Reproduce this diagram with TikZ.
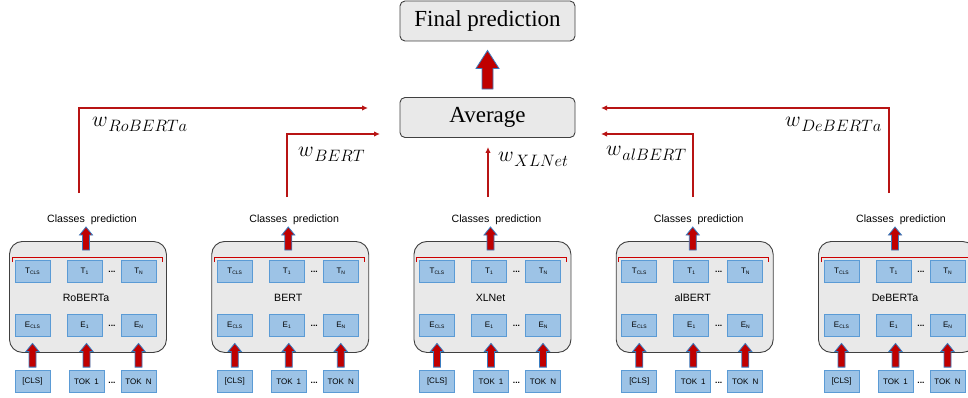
\RequirePackage{fix-cm}
\documentclass[tikz,border=0pt]{standalone}
\usepackage{fontspec}
\newfontfamily\arialf{Liberation Sans}
\newfontfamily\tnrf{Liberation Serif}
\usetikzlibrary{calc,arrows.meta}
\definecolor{boxblue}{HTML}{9DC3E6}
\definecolor{edgeblue}{HTML}{5B9BD5}
\definecolor{darkred}{HTML}{C00000}
\definecolor{linered}{HTML}{B81414}
\definecolor{panelgray}{HTML}{E9E9E9}
\definecolor{arrowedge}{HTML}{3A7CC0}
\newcommand\fatarrow[5]{%
  \path[fatstyle] let \p1=(#1), \p2=(#2) in
  (\x1-#3,\y1) -- (\x1-#3,\y2-#5) -- (\x1-#4,\y2-#5) -- (\x1,\y2) --
  (\x1+#4,\y2-#5) -- (\x1+#3,\y2-#5) -- (\x1+#3,\y1) -- cycle;}
\newcommand\sbs[1]{\raisebox{-1.4pt}{\fontsize{5}{5}\selectfont #1}}
\newcommand\wsub[1]{$w$\hspace{0.5pt}\raisebox{-5pt}{\fontsize{16.5}{17}\selectfont$#1$}}
\tikzset{
  tok/.style={draw=edgeblue, fill=boxblue, line width=0.8pt, minimum width=35pt,
    minimum height=22pt, inner sep=0pt, font=\arialf\fontsize{8}{9}\selectfont},
  panel/.style={draw=black!75, fill=panelgray, rounded corners=13pt, line width=0.9pt,
    minimum width=157pt, minimum height=111pt, anchor=north west, inner sep=0pt},
  topbox/.style={draw=black!75, fill=panelgray, rounded corners=5pt, line width=0.9pt,
    minimum width=175pt, minimum height=40pt, inner sep=0pt,
    font=\tnrf\fontsize{23}{27}\selectfont},
  fatstyle/.style={fill=darkred, draw=arrowedge, line width=0.8pt, line join=miter},
  wline/.style={draw=linered, line width=1.4pt, -{Latex[length=6pt,width=5.5pt]}},
  wlabel/.style={anchor=base west, inner sep=0pt, font=\fontsize{21.5}{25}\selectfont},
  bracketline/.style={draw=red!80!black, line width=0.9pt},
  small/.style={font=\arialf\fontsize{10.6}{12}\selectfont, inner sep=0pt},
  dots/.style={font=\arialf\bfseries\fontsize{8.5}{9}\selectfont, inner sep=0pt}
}
\begin{document}
\begin{tikzpicture}[x=1pt,y=-1pt]
\useasboundingbox (0,0) rectangle (968,398);
\clip (0,0) rectangle (968,398);
% top boxes
\node[topbox] (fin) at (487.5,21) {Final prediction};
\node[topbox] (avg) at (487.5,117.5) {Average};
\fatarrow{$(avg.north)+(0,-8)$}{$(fin.south)+(0,9)$}{5.5pt}{11.5pt}{18pt}
% blocks
\foreach \i/\name/\dx in {1/RoBERTa/0, 2/BERT/202.25, 3/XLNet/404.5, 4/alBERT/606.75, 5/DeBERTa/809}{
  \begin{scope}[xshift=\dx]
    \node[panel] (p\i) at (9,241) {};
    \draw[bracketline] (12,262) -- (12,257) -- (162,257) -- (162,262);
    \node[tok] (tc\i) at (32.5,271) {T\sbs{CLS}};
    \node[tok] (t1\i) at (84.5,271) {T\sbs{1}};
    \node[tok] (tn\i) at (138.5,271) {T\sbs{N}};
    \node[dots] (td\i) at (112,272) {...};
    \node[small] (nm\i) at (86,298) {\name};
    \node[tok] (ec\i) at (32.5,325) {E\sbs{CLS}};
    \node[tok] (e1\i) at (84.5,325) {E\sbs{1}};
    \node[tok] (en\i) at (138.5,325) {E\sbs{N}};
    \node[dots] (ed\i) at (112,326) {...};
    \node[tok] (kc\i) at (32.5,381.5) {[CLS]};
    \node[tok] (k1\i) at (86.5,381.5) {TOK\hspace{4pt}1};
    \node[tok] (kn\i) at (138.5,381.5) {TOK\hspace{4pt}N};
    \node[dots] (kd\i) at (112,382.5) {...};
    \node[small] (cp\i) at (92,220) {Classes\hspace{3pt} prediction};
    \coordinate (ab\i) at (86,250);
    \coordinate (at\i) at (86,227);
    \fatarrow{ab\i}{at\i}{3.5pt}{6.5pt}{8pt}
    \fatarrow{$(kc\i.north)+(0,-3)$}{$(ec\i.south)+(0,7)$}{3.5pt}{6.5pt}{8pt}
    \fatarrow{$(k1\i.north)+(0,-3)$}{$(e1\i.south)+(0,7)$}{3.5pt}{6.5pt}{8pt}
    \fatarrow{$(kn\i.north)+(0,-3)$}{$(en\i.south)+(0,7)$}{3.5pt}{6.5pt}{8pt}
  \end{scope}
}
% weight connectors
\coordinate (wb1) at (79,193);
\coordinate (wb2) at (287,197);
\coordinate (wb3) at (488,197);
\coordinate (wb4) at (693,197);
\coordinate (wb5) at (889,193);
\coordinate (in1) at (368,108);
\coordinate (in2) at (380,134);
\coordinate (in3) at (488,147);
\coordinate (in4) at (601,134);
\coordinate (in5) at (601,108);
\draw[wline] (wb1) |- (in1);
\draw[wline] (wb2) |- (in2);
\draw[wline] (wb3) -- (in3);
\draw[wline] (wb4) |- (in4);
\draw[wline] (wb5) |- (in5);
\node[wlabel] (l1) at (92,127) {\wsub{RoBERTa}};
\node[wlabel] (l2) at (298,157) {\wsub{BERT}};
\node[wlabel] (l3) at (498,162) {\wsub{XLNet}};
\node[wlabel] (l4) at (606,156) {\wsub{alBERT}};
\node[wlabel] (l5) at (785,127) {\wsub{DeBERTa}};
\end{tikzpicture}
\end{document}
